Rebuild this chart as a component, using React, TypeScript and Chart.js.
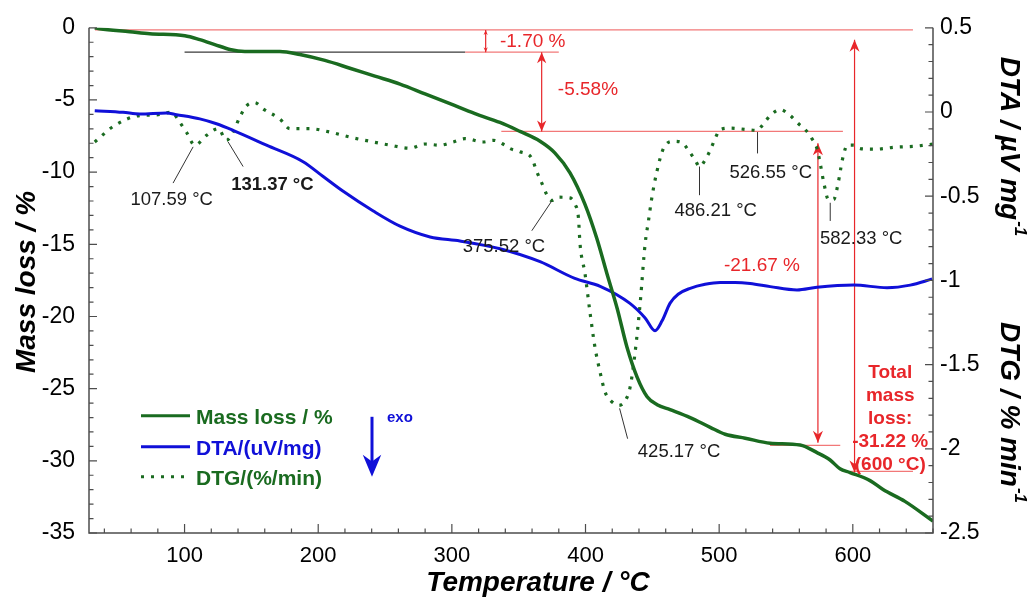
import React, { useEffect, useRef } from "react";
import { Chart, registerables } from "chart.js";
Chart.register(...registerables);

const FONT = "'Liberation Sans', Arial, sans-serif";

// ---------- data ----------
const massT = [32.8, 36.5, 59, 74, 100.2, 111.4, 122.6, 133.9, 145.1, 160, 171.3, 186.3, 205, 223.7, 242.4, 261.2, 279.9, 298.6, 317.3, 336, 351, 366, 377.2, 388.4, 399.6, 408.6, 416, 423.6, 431.1, 438.6, 446.1, 453.6, 463.3, 478.3, 493.3, 504.5, 519.5, 538.2, 560.6, 573.2, 583, 590.4, 597.9, 612.9, 622.6, 639, 660];
const massV = [0, -0.07, -0.27, -0.41, -0.55, -0.82, -1.16, -1.5, -1.64, -1.64, -1.64, -1.85, -2.26, -2.8, -3.35, -3.9, -4.58, -5.26, -5.95, -6.56, -7.18, -7.86, -8.68, -10.05, -12.23, -14.63, -17.02, -19.41, -22.15, -24.2, -25.56, -26.11, -26.45, -27.0, -27.68, -28.16, -28.43, -28.78, -28.91, -29.43, -29.94, -30.55, -30.81, -31.37, -31.99, -32.81, -34.18];

const dtaT = [32.8, 54, 66.5, 86.5, 94, 111.4, 123.9, 136.3, 161.3, 188.7, 203.7, 218.7, 241.2, 261.2, 283.7, 306, 336, 366, 392, 411, 433, 444.6, 452, 457.3, 463.3, 469.3, 478.3, 489.5, 500.7, 512, 523.2, 538.2, 558.2, 573.2, 600.6, 625.6, 643, 659.3];
const dtaV = [0.008, -0.002, -0.012, -0.006, -0.016, -0.041, -0.07, -0.109, -0.197, -0.295, -0.383, -0.471, -0.588, -0.678, -0.742, -0.766, -0.812, -0.889, -0.988, -1.035, -1.135, -1.223, -1.299, -1.24, -1.135, -1.082, -1.047, -1.023, -1.012, -1.012, -1.018, -1.037, -1.057, -1.041, -1.028, -1.043, -1.028, -0.992];

const dtgT = [32.8, 47.7, 66.5, 79, 90.2, 96.4, 101.4, 107.6, 116.4, 125.1, 131.4, 136.3, 141.3, 146.4, 152.6, 158.8, 171.3, 178.8, 193.8, 208.7, 223.7, 241.2, 253.7, 268.6, 279.8, 291, 301, 309.8, 323.5, 331, 339.8, 343.5, 351, 359.8, 363.5, 367.3, 371, 374.7, 379.7, 388.4, 392.2, 394.7, 395.9, 399.6, 403.4, 407.1, 410.9, 414.6, 419, 425, 430, 433.4, 437.1, 440.9, 444.6, 447.1, 449.6, 453.4, 458.3, 465.8, 472.1, 477, 482, 485.3, 489.5, 493.3, 497, 500.7, 508.2, 520.7, 528.2, 533.2, 538.2, 545.7, 553.2, 559.4, 564.4, 569.4, 573.2, 575.6, 578.1, 581.8, 585.6, 589.3, 591.9, 594.4, 595.6, 600.6, 605.6, 616.8, 631.8, 646.8, 660];
const dtgV = [-0.178, -0.08, -0.021, -0.017, -0.002, -0.061, -0.12, -0.197, -0.139, -0.099, -0.168, -0.119, -0.031, 0.037, 0.056, 0.018, -0.041, -0.099, -0.099, -0.119, -0.149, -0.178, -0.197, -0.215, -0.19, -0.197, -0.178, -0.158, -0.178, -0.168, -0.197, -0.217, -0.236, -0.275, -0.354, -0.422, -0.49, -0.525, -0.506, -0.51, -0.549, -0.627, -0.783, -0.959, -1.193, -1.398, -1.545, -1.662, -1.715, -1.742, -1.71, -1.633, -1.428, -1.135, -0.783, -0.647, -0.51, -0.354, -0.217, -0.174, -0.181, -0.227, -0.285, -0.324, -0.285, -0.227, -0.158, -0.104, -0.096, -0.104, -0.109, -0.07, -0.021, 0.014, -0.021, -0.07, -0.104, -0.158, -0.217, -0.305, -0.412, -0.52, -0.52, -0.412, -0.295, -0.217, -0.197, -0.197, -0.217, -0.221, -0.209, -0.203, -0.191];

const xTickValues = [100, 200, 300, 400, 500, 600];
const leftTickValues = [0, -5, -10, -15, -20, -25, -30, -35];
const rightTickValues = [0.5, 0, -0.5, -1, -1.5, -2, -2.5];

// peak labels (right axis units)
const peakText = ["107.59 °C", "131.37 °C", "375.52 °C", "425.17 °C", "486.21 °C", "526.55 °C", "582.33 °C"];
const peakBold = [false, true, false, false, false, false, false];
const peakLabelT = [90.4, 165.7, 339, 470, 497.4, 538.6, 606.3];
const peakLabelV = [-0.52, -0.432, -0.8, -2.02, -0.588, -0.363, -0.754];
const leaderT0 = [106.4, 132.6, 374.7, 425.5, 485.3, 528.7, 583.1];
const leaderV0 = [-0.207, -0.178, -0.529, -1.76, -0.324, -0.119, -0.539];
const leaderT1 = [91.4, 143.8, 359.8, 431.5, 485.3, 528.7, 583.1];
const leaderV1 = [-0.422, -0.324, -0.705, -1.94, -0.494, -0.246, -0.647];

// mass-loss step annotations (left axis units)
const stepLineM = [-0.15, -1.69, -1.69, -7.18, -28.93, -30.73];
const stepLineT0 = [33, 100, 310, 337, 538, 598];
const stepLineT1 = [645, 310, 380, 592.6, 590.6, 645];
const stepLineDark = [false, true, false, false, false, false];
const arrowT = [325.3, 367.2, 573.9, 601.3];
const arrowM0 = [-0.15, -1.69, -8.0, -0.82];
const arrowM1 = [-1.69, -7.18, -28.75, -30.81];
const arrowHead = [5, 11, 12, 12];
const stepText = ["-1.70 %", "-5.58%", "-21.67 %"];
const stepTextT = [336, 379.3, 532];
const stepTextM = [-0.96, -4.31, -16.47];
const stepTextAlign = ["left", "left", "center"];
const totalText = ["Total", "mass", "loss:", "-31.22 %", "(600 °C)"];
const totalTextT = 628;
const totalTextM = -23.9;

const legendLabels = ["Mass loss / %", "DTA/(uV/mg)", "DTG/(%/min)"];

const GREEN = "#1a6b20";
const BLUE = "#1010d8";
const RED_LINE = "#f27878";
const RED = "#e8262a";

function arrowHeadAt(ctx: CanvasRenderingContext2D, x: number, y: number, dir: number, len: number) {
  const w = len * 0.42;
  ctx.beginPath();
  ctx.moveTo(x, y);
  ctx.lineTo(x - w, y + dir * len);
  ctx.lineTo(x, y + dir * len * 0.7);
  ctx.lineTo(x + w, y + dir * len);
  ctx.closePath();
  ctx.fill();
}

const overlay = {
  id: "overlay",
  beforeDatasetsDraw(chart: any) {
    const { ctx, scales } = chart;
    const x = scales.x, y = scales.y;
    ctx.save();
    ctx.lineWidth = 1.3;
    for (let i = 0; i < stepLineM.length; i++) {
      const py = y.getPixelForValue(stepLineM[i]);
      ctx.strokeStyle = stepLineDark[i] ? "#3a3a3a" : RED_LINE;
      ctx.beginPath();
      ctx.moveTo(x.getPixelForValue(stepLineT0[i]), py);
      ctx.lineTo(x.getPixelForValue(stepLineT1[i]), py);
      ctx.stroke();
    }
    ctx.strokeStyle = RED;
    ctx.fillStyle = RED;
    ctx.lineWidth = 1.2;
    for (let i = 0; i < arrowT.length; i++) {
      const px = x.getPixelForValue(arrowT[i]);
      const p0 = y.getPixelForValue(arrowM0[i]);
      const p1 = y.getPixelForValue(arrowM1[i]);
      ctx.beginPath();
      ctx.moveTo(px, p0);
      ctx.lineTo(px, p1);
      ctx.stroke();
      arrowHeadAt(ctx, px, p0, 1, arrowHead[i]);
      arrowHeadAt(ctx, px, p1, -1, arrowHead[i]);
    }
    ctx.restore();
  },
  afterDraw(chart: any) {
    const { ctx, chartArea: ca, scales } = chart;
    const x = scales.x, y = scales.y, y2 = scales.y2;
    ctx.save();
    // axes
    ctx.strokeStyle = "#4d4d4d";
    ctx.lineWidth = 1.5;
    ctx.beginPath();
    ctx.moveTo(ca.left, ca.top);
    ctx.lineTo(ca.left, ca.bottom);
    ctx.lineTo(ca.right, ca.bottom);
    ctx.lineTo(ca.right, ca.top);
    ctx.stroke();
    ctx.lineWidth = 1.2;
    ctx.beginPath();
    for (let t = 40; t <= 660; t += 20) {
      const px = x.getPixelForValue(t);
      const len = t % 100 === 0 ? 9 : 4.5;
      ctx.moveTo(px, ca.bottom);
      ctx.lineTo(px, ca.bottom - len);
    }
    for (let m = 0; m >= -35; m -= 1) {
      const py = y.getPixelForValue(m);
      const len = m % 5 === 0 ? 8 : 4.5;
      ctx.moveTo(ca.left, py);
      ctx.lineTo(ca.left + len, py);
    }
    for (let k = 0; k <= 30; k++) {
      const py = y2.getPixelForValue(0.5 - k * 0.1);
      const len = k % 5 === 0 ? 8 : 4.5;
      ctx.moveTo(ca.right, py);
      ctx.lineTo(ca.right - len, py);
    }
    ctx.stroke();

    // leaders + peak labels
    ctx.strokeStyle = "#333";
    ctx.lineWidth = 1;
    ctx.beginPath();
    for (let i = 0; i < peakText.length; i++) {
      ctx.moveTo(x.getPixelForValue(leaderT0[i]), y2.getPixelForValue(leaderV0[i]));
      ctx.lineTo(x.getPixelForValue(leaderT1[i]), y2.getPixelForValue(leaderV1[i]));
    }
    ctx.stroke();
    ctx.fillStyle = "#1a1a1a";
    ctx.textAlign = "center";
    ctx.textBaseline = "middle";
    for (let i = 0; i < peakText.length; i++) {
      ctx.font = `${peakBold[i] ? "bold " : ""}18.5px ${FONT}`;
      ctx.fillText(peakText[i], x.getPixelForValue(peakLabelT[i]), y2.getPixelForValue(peakLabelV[i]));
    }

    // step texts
    ctx.fillStyle = RED;
    ctx.font = `19px ${FONT}`;
    for (let i = 0; i < stepText.length; i++) {
      ctx.textAlign = stepTextAlign[i] as CanvasTextAlign;
      ctx.fillText(stepText[i], x.getPixelForValue(stepTextT[i]), y.getPixelForValue(stepTextM[i]));
    }
    ctx.font = `bold 19px ${FONT}`;
    ctx.textAlign = "center";
    const ty0 = y.getPixelForValue(totalTextM);
    totalText.forEach((s, i) => ctx.fillText(s, x.getPixelForValue(totalTextT), ty0 + i * 23));

    // legend
    const lx0 = ca.left + 52, lx1 = ca.left + 101, ltx = ca.left + 107;
    const rows = [ca.top + 388, ca.top + 419, ca.top + 449];
    const colors = [GREEN, BLUE, GREEN];
    ctx.textAlign = "left";
    ctx.font = `bold 21px ${FONT}`;
    rows.forEach((ry, i) => {
      ctx.strokeStyle = colors[i];
      ctx.lineWidth = 3;
      ctx.setLineDash(i === 2 ? [3, 7] : []);
      ctx.beginPath();
      ctx.moveTo(lx0, ry);
      ctx.lineTo(lx1, ry);
      ctx.stroke();
      ctx.setLineDash([]);
      ctx.fillStyle = colors[i];
      ctx.fillText(legendLabels[i], ltx, ry + 2);
    });
    // exo arrow
    const ax = ca.left + 283;
    ctx.strokeStyle = BLUE;
    ctx.fillStyle = BLUE;
    ctx.lineWidth = 3;
    ctx.beginPath();
    ctx.moveTo(ax, ca.top + 389);
    ctx.lineTo(ax, ca.top + 440);
    ctx.stroke();
    arrowHeadAt(ctx, ax, ca.top + 449, -1, 22);
    ctx.font = `bold 15px ${FONT}`;
    ctx.fillText("exo", ax + 15, ca.top + 390);

    // axis titles
    ctx.fillStyle = "#000";
    ctx.font = `italic bold 28px ${FONT}`;
    ctx.textAlign = "center";
    ctx.textBaseline = "middle";
    ctx.fillText("Temperature / °C", 538, 583);
    ctx.save();
    ctx.translate(27, 282);
    ctx.rotate(-Math.PI / 2);
    ctx.fillText("Mass loss / %", 0, 0);
    ctx.restore();

    const drawRight = (main: string, cy: number) => {
      ctx.save();
      ctx.translate(1011, cy);
      ctx.rotate(Math.PI / 2);
      ctx.font = `italic bold 28px ${FONT}`;
      const w1 = ctx.measureText(main).width;
      ctx.font = `italic bold 17px ${FONT}`;
      const w2 = ctx.measureText("-1").width;
      const start = -(w1 + w2) / 2;
      ctx.textAlign = "left";
      ctx.textBaseline = "alphabetic";
      ctx.font = `italic bold 28px ${FONT}`;
      ctx.fillText(main, start, 10);
      ctx.font = `italic bold 17px ${FONT}`;
      ctx.fillText("-1", start + w1 + 1, -4);
      ctx.restore();
    };
    drawRight("DTA / µV mg", 146);
    drawRight("DTG / % min", 412);
    ctx.restore();
  },
};

export default function App() {
  const ref = useRef<HTMLCanvasElement>(null);
  useEffect(() => {
    const tickFont = { family: FONT, size: 23 };
    const chart = new Chart(ref.current!, {
      type: "line",
      data: {
        datasets: [
          {
            label: "Mass loss / %",
            data: massT.map((t, i) => ({ x: t, y: massV[i] })),
            borderColor: GREEN,
            borderWidth: 3.5,
            pointRadius: 0,
            cubicInterpolationMode: "monotone",
            yAxisID: "y",
          },
          {
            label: "DTA/(uV/mg)",
            data: dtaT.map((t, i) => ({ x: t, y: dtaV[i] })),
            borderColor: BLUE,
            borderWidth: 3,
            pointRadius: 0,
            cubicInterpolationMode: "monotone",
            yAxisID: "y2",
          },
          {
            label: "DTG/(%/min)",
            data: dtgT.map((t, i) => ({ x: t, y: dtgV[i] })),
            borderColor: GREEN,
            borderWidth: 3.2,
            borderDash: [3, 7],
            borderCapStyle: "butt",
            pointRadius: 0,
            cubicInterpolationMode: "monotone",
            yAxisID: "y2",
          },
        ],
      },
      options: {
        animation: false,
        responsive: false,
        layout: { padding: { top: 21, left: 0, right: 0, bottom: 0 } },
        plugins: { legend: { display: false }, tooltip: { enabled: false } },
        scales: {
          x: {
            type: "linear",
            min: 28.5,
            max: 660,
            grid: { display: false, drawTicks: false },
            border: { display: false },
            ticks: { font: { family: FONT, size: 22 }, color: "#000", padding: 10, callback: (v: any) => String(v) },
            afterBuildTicks: (s: any) => { s.ticks = xTickValues.map((v) => ({ value: v })); },
            afterFit: (s: any) => { s.height = 66; },
          },
          y: {
            type: "linear",
            position: "left",
            min: -35,
            max: 0,
            grid: { display: false, drawTicks: false },
            border: { display: false },
            ticks: { font: tickFont, color: "#000", padding: 14, callback: (v: any) => String(v) },
            afterBuildTicks: (s: any) => { s.ticks = leftTickValues.map((v) => ({ value: v })); },
            afterFit: (s: any) => { s.width = 89; },
          },
          y2: {
            type: "linear",
            position: "right",
            min: -2.5,
            max: 0.5,
            grid: { display: false, drawTicks: false },
            border: { display: false },
            ticks: { font: tickFont, color: "#000", padding: 7, callback: (v: any) => String(v) },
            afterBuildTicks: (s: any) => { s.ticks = rightTickValues.map((v) => ({ value: v })); },
            afterFit: (s: any) => { s.width = 94; },
          },
        },
      },
      plugins: [overlay],
    } as any);
    return () => chart.destroy();
  }, []);
  return (
    <div style={{ position: "fixed", left: 0, top: 0, width: 1027, height: 599, background: "#fff" }}>
      <canvas ref={ref} width={1027} height={599} style={{ display: "block" }} />
    </div>
  );
}
